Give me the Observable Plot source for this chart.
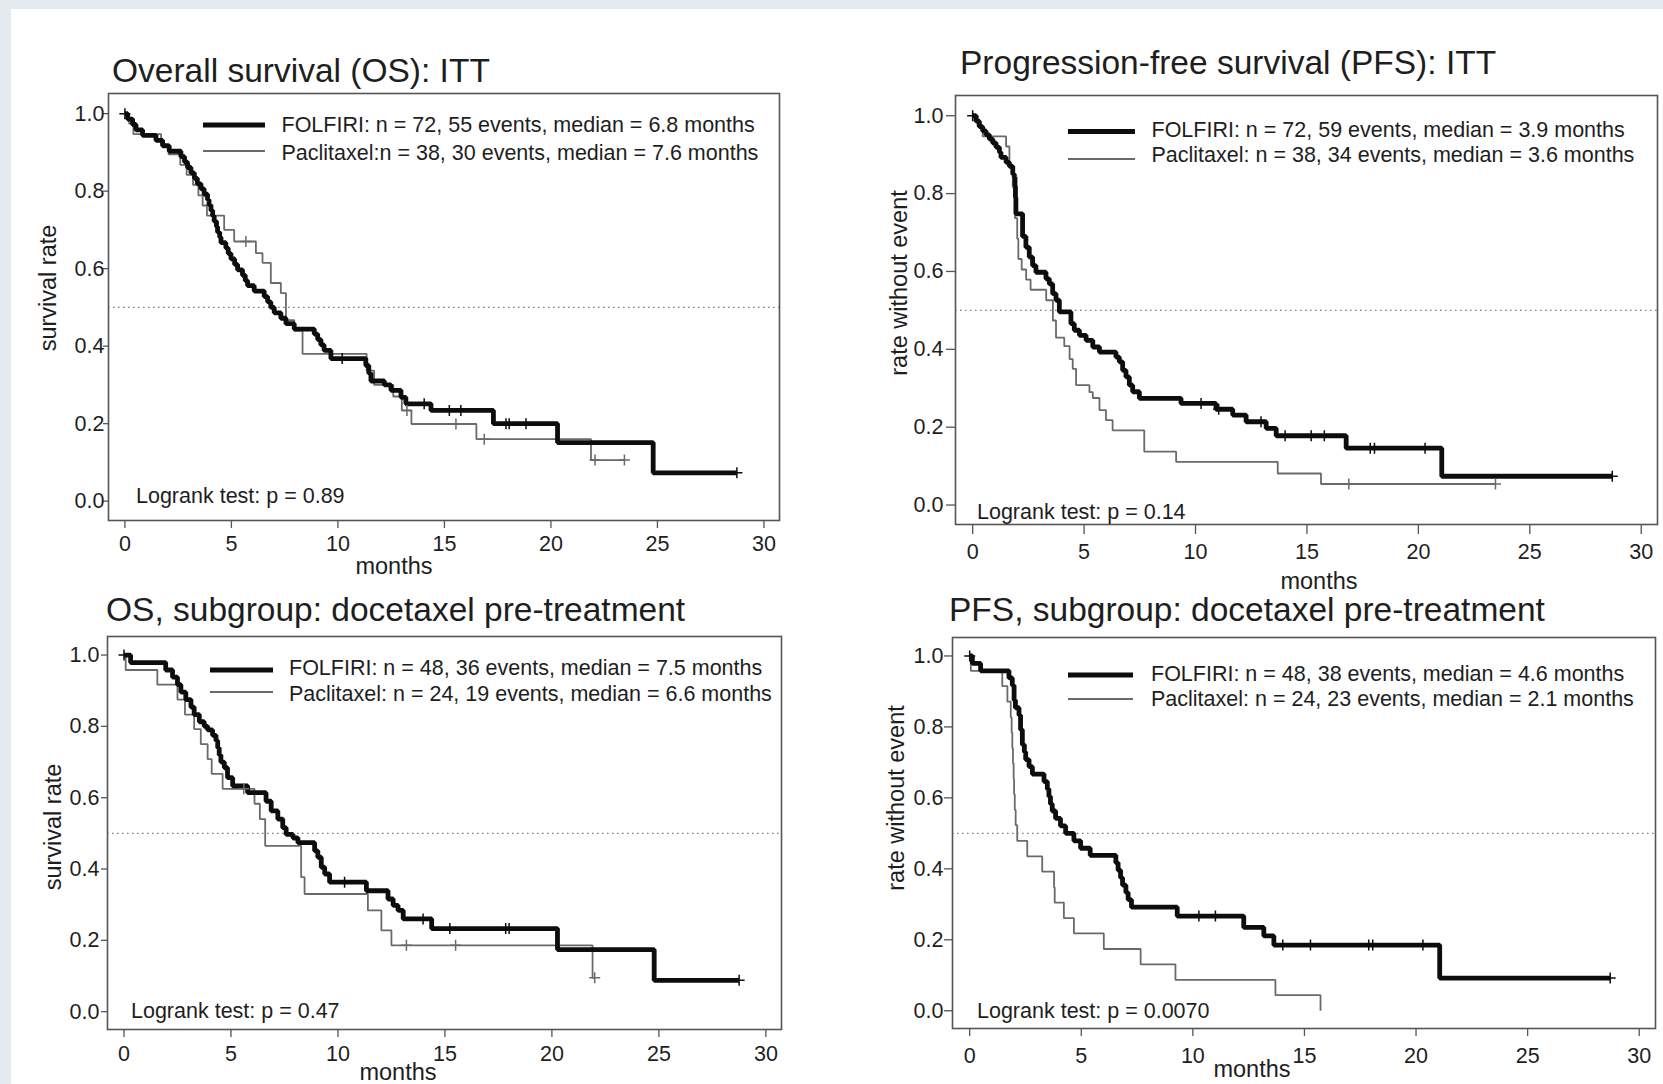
<!DOCTYPE html>
<html><head><meta charset="utf-8">
<script src="https://cdn.jsdelivr.net/npm/d3@7"></script>
<script src="https://cdn.jsdelivr.net/npm/@observablehq/plot@0.6"></script>
<style>
html,body{margin:0;padding:0;background:#e3ebf1;}
#page{position:relative;width:1663px;height:1084px;overflow:hidden;background:#e3ebf1;}
#sheet{position:absolute;left:11px;top:9px;right:0;bottom:0;background:#fff;}
#page svg{position:absolute;overflow:visible;}
</style></head>
<body><div id="page"><div id="sheet"></div></div>
<script>
// ---------- data ----------
const X_TICKS = [0, 5, 10, 15, 20, 25, 30];
const Y_TICKS = [0, 0.2, 0.4, 0.6, 0.8, 1.0];

const titles = ["Overall survival (OS): ITT", "Progression-free survival (PFS): ITT",
  "OS, subgroup: docetaxel pre-treatment", "PFS, subgroup: docetaxel pre-treatment"];
const yLabels = ["survival rate", "rate without event", "survival rate", "rate without event"];
const xLabel = "months";
const legendFolfiri = ["FOLFIRI: n = 72, 55 events, median = 6.8 months",
  "FOLFIRI: n = 72, 59 events, median = 3.9 months",
  "FOLFIRI: n = 48, 36 events, median = 7.5 months",
  "FOLFIRI: n = 48, 38 events, median = 4.6 months"];
const legendPaclitaxel = ["Paclitaxel:n = 38, 30 events, median = 7.6 months",
  "Paclitaxel: n = 38, 34 events, median = 3.6 months",
  "Paclitaxel: n = 24, 19 events, median = 6.6 months",
  "Paclitaxel: n = 24, 23 events, median = 2.1 months"];
const logrank = ["Logrank test: p = 0.89", "Logrank test: p = 0.14", "Logrank test: p = 0.47", "Logrank test: p = 0.0070"];

// Panel 1: OS, ITT
const osFolT = [0.13,0.36,0.52,0.83,1.46,1.77,2.08,2.63,2.80,2.94,3.10,3.26,3.40,3.57,3.72,3.88,3.95,4.04,4.12,4.19,4.30,4.35,4.45,4.51,4.74,4.85,4.98,5.15,5.29,5.52,5.65,5.76,6.07,6.54,6.70,6.85,7.01,7.32,7.56,7.95,8.89,9.05,9.20,9.35,9.67,11.31,11.45,11.55,12.18,12.49,12.96,13.19,14.37,17.30,20.31,24.80];
const osFolS = [0.986,0.972,0.958,0.944,0.931,0.917,0.903,0.889,0.875,0.861,0.847,0.833,0.819,0.806,0.792,0.778,0.764,0.750,0.736,0.722,0.708,0.694,0.681,0.667,0.653,0.639,0.625,0.611,0.597,0.583,0.569,0.556,0.542,0.528,0.514,0.500,0.486,0.472,0.458,0.444,0.431,0.417,0.403,0.389,0.368,0.350,0.330,0.310,0.300,0.286,0.268,0.251,0.234,0.200,0.151,0.073];
const osFolC = [0, 10.2, 14.05, 15.23, 15.77, 17.89, 18.04, 18.83, 28.73];
const osPacT = [0.20,0.40,1.70,2.05,2.60,2.90,3.20,3.45,3.65,3.85,4.66,5.13,6.15,6.46,6.85,7.32,7.56,7.95,8.34,11.35,11.70,12.60,13.00,13.45,16.50,21.88];
const osPacS = [0.974,0.947,0.921,0.895,0.868,0.842,0.816,0.789,0.763,0.737,0.700,0.670,0.640,0.615,0.563,0.537,0.467,0.440,0.380,0.337,0.300,0.270,0.234,0.199,0.160,0.106];
const osPacC = [5.68, 13.24, 15.54, 16.87, 22.07, 23.45];

// Panel 2: PFS, ITT
const pfsFolT = [0.15,0.30,0.45,0.60,0.75,0.90,1.05,1.20,1.27,1.50,1.65,1.80,1.87,1.90,1.92,1.94,2.24,2.39,2.54,2.69,2.84,3.29,3.44,3.59,3.74,3.89,4.41,4.56,4.79,5.09,5.39,5.69,6.43,6.58,6.73,6.88,7.03,7.18,7.48,9.35,10.92,11.67,12.27,13.17,13.62,16.76,21.05];
const pfsFolS = [0.986,0.972,0.961,0.951,0.940,0.930,0.919,0.906,0.893,0.880,0.870,0.850,0.842,0.820,0.790,0.748,0.690,0.662,0.637,0.615,0.598,0.581,0.568,0.543,0.526,0.496,0.466,0.449,0.436,0.423,0.406,0.393,0.380,0.368,0.346,0.329,0.308,0.291,0.274,0.261,0.246,0.231,0.214,0.197,0.178,0.146,0.074];
const pfsFolC = [0, 10.25, 11.04, 12.94, 14.02, 15.19, 15.78, 17.84, 18.03, 20.30, 28.70];
const pfsPacT = [0.22,0.45,1.50,1.65,1.80,1.90,2.00,2.05,2.20,2.40,2.60,3.30,3.60,3.74,4.11,4.35,4.49,4.64,5.24,5.39,5.69,5.98,6.28,7.70,9.13,13.69,15.63];
const pfsPacS = [0.974,0.947,0.921,0.868,0.816,0.737,0.684,0.632,0.605,0.579,0.553,0.526,0.474,0.430,0.408,0.375,0.350,0.308,0.290,0.275,0.244,0.218,0.192,0.137,0.111,0.081,0.054];
const pfsPacC = [16.88, 23.46];

// Panel 3: OS, docetaxel subgroup
const osSubFolT = [0.31,1.95,2.27,2.50,2.66,2.89,3.13,3.28,3.52,3.75,3.91,4.14,4.30,4.38,4.45,4.53,4.69,4.84,5.08,5.78,6.64,6.88,7.19,7.42,7.58,7.90,8.13,8.91,9.06,9.22,9.38,9.61,11.33,12.34,12.58,12.81,13.05,14.38,20.26,24.78];
const osSubFolS = [0.979,0.958,0.938,0.917,0.896,0.875,0.854,0.833,0.813,0.800,0.790,0.775,0.760,0.740,0.720,0.700,0.684,0.656,0.633,0.614,0.590,0.563,0.540,0.516,0.497,0.487,0.474,0.451,0.433,0.405,0.386,0.363,0.339,0.316,0.298,0.284,0.260,0.233,0.174,0.088];
const osSubFolC = [0, 10.31, 13.98, 15.23, 17.84, 18.00, 28.75];
const osSubPacT = [0.08,1.56,2.50,2.85,3.28,3.59,3.91,4.10,4.61,6.10,6.35,6.60,8.28,8.44,11.40,12.03,12.50,21.90];
const osSubPacS = [0.958,0.917,0.875,0.833,0.792,0.750,0.708,0.667,0.625,0.583,0.540,0.465,0.377,0.330,0.284,0.228,0.186,0.095];
const osSubPacC = [5.60, 13.20, 15.50, 22.00];

// Panel 4: PFS, docetaxel subgroup
const pfsSubFolT = [0.12,0.49,1.76,1.91,1.99,2.05,2.21,2.28,2.36,2.45,2.51,2.66,2.81,3.33,3.48,3.55,3.62,3.70,3.85,4.07,4.30,4.67,4.97,5.40,6.55,6.65,6.76,6.85,7.00,7.10,7.25,9.30,12.28,13.18,13.63,21.06];
const pfsSubFolS = [0.979,0.958,0.938,0.917,0.875,0.854,0.833,0.792,0.750,0.729,0.708,0.688,0.667,0.646,0.625,0.604,0.583,0.563,0.542,0.521,0.500,0.479,0.458,0.438,0.417,0.396,0.375,0.354,0.333,0.313,0.292,0.267,0.235,0.211,0.185,0.092];
const pfsSubFolC = [0, 10.27, 11.01, 14.03, 15.27, 17.88, 18.06, 20.31, 28.70];
const pfsSubPacT = [0.05,1.46,1.69,1.84,1.88,1.91,1.94,1.97,1.99,2.02,2.06,2.13,2.58,3.25,3.78,3.81,4.22,4.67,6.01,7.66,9.22,13.70,15.72];
const pfsSubPacS = [0.958,0.915,0.871,0.827,0.784,0.740,0.697,0.653,0.610,0.566,0.523,0.479,0.435,0.392,0.348,0.305,0.261,0.218,0.174,0.131,0.087,0.044,0.000];
const pfsSubPacC = [];

// ---------- layout ----------
const FONT = "'Liberation Sans', Arial, Helvetica, sans-serif";
const TEXT = "#1e1e1e";
const X_DOMAIN = [-0.77, 30.73];
const Y_DOMAIN = [-0.05, 1.052];

const layout = [
  {frame:[108,93,779,520], tx:112, ty:82, ylx:48, yly:288, mx:394, my:574, ytick:[5,-1], xtick:[8,7],
   leg:{x1:203,x2:265,yF:125,yP:151,tx:281.5,bF:132,bP:159.5}, lr:[136,503]},
  {frame:[955,95,1657,524], tx:960, ty:74, ylx:899, yly:283, mx:1319, my:589, ytick:[9,3], xtick:[10,9],
   leg:{x1:1068,x2:1135,yF:131.5,yP:159,tx:1151.5,bF:136.5,bP:162}, lr:[977,519]},
  {frame:[107,636,781,1029], tx:106, ty:621, ylx:53, yly:827, mx:398, my:1080, ytick:[6,2], xtick:[8,8],
   leg:{x1:210,x2:273,yF:670,yP:692,tx:289,bF:674.5,bP:701}, lr:[131,1018]},
  {frame:[952,637,1655,1028], tx:949, ty:621, ylx:896, yly:798, mx:1252, my:1077, ytick:[8,1], xtick:[8,11],
   leg:{x1:1068,x2:1133,yF:675,yP:699,tx:1151,bF:681,bP:706}, lr:[977,1018]}
];

const seriesData = [
  {fol:[osFolT, osFolS, osFolC], pac:[osPacT, osPacS, osPacC]},
  {fol:[pfsFolT, pfsFolS, pfsFolC], pac:[pfsPacT, pfsPacS, pfsPacC]},
  {fol:[osSubFolT, osSubFolS, osSubFolC], pac:[osSubPacT, osSubPacS, osSubPacC]},
  {fol:[pfsSubFolT, pfsSubFolS, pfsSubFolC], pac:[pfsSubPacT, pfsSubPacS, pfsSubPacC]}
];

function levelAt(T, S, t) {
  let s = 1;
  for (let i = 0; i < T.length; i++) if (T[i] <= t) s = S[i];
  return s;
}
function curvePoints(T, S, C) {
  const pts = [{t: 0, s: 1}];
  T.forEach((t, i) => pts.push({t, s: S[i]}));
  const end = Math.max(T.length ? T[T.length - 1] : 0, C.length ? d3.max(C) : 0);
  if (end > pts[pts.length - 1].t) pts.push({t: end, s: pts[pts.length - 1].s});
  return pts;
}
function censorPoints(T, S, C) {
  return C.map(t => ({t, s: levelAt(T, S, t)}));
}

const plusSymbol = {
  draw(ctx, size) {
    const r = Math.sqrt(size / Math.PI);
    ctx.moveTo(-r, 0); ctx.lineTo(r, 0);
    ctx.moveTo(0, -r); ctx.lineTo(0, r);
  }
};

const page = document.getElementById("page");
const BLACK = "#0d0d0d", GRAY = "#6a6a6a";

layout.forEach((L, i) => {
  const [fl, ft, fr, fb] = L.frame;
  const mL = 80, mR = 6, mT = 4, mB = 70;
  const d = seriesData[i];
  const folPts = curvePoints(...d.fol), pacPts = curvePoints(...d.pac);
  const folC = censorPoints(...d.fol), pacC = censorPoints(...d.pac);
  const svg = Plot.plot({
    width: fr - fl + mL + mR,
    height: fb - ft + mT + mB,
    marginLeft: mL, marginRight: mR, marginTop: mT, marginBottom: mB,
    x: {domain: X_DOMAIN},
    y: {domain: Y_DOMAIN},
    style: {fontFamily: FONT, fontSize: "21.5px", color: TEXT, background: "transparent", overflow: "visible"},
    marks: [
      Plot.ruleY([0.5], {stroke: "#808080", strokeWidth: 1.3, strokeDasharray: "1.6,3.4"}),
      Plot.line(pacPts, {x: "t", y: "s", curve: "step-after", stroke: GRAY, strokeWidth: 1.8, strokeLinejoin: "miter", strokeLinecap: "butt"}),
      Plot.line(folPts, {x: "t", y: "s", curve: "step-after", stroke: BLACK, strokeWidth: 4.8, strokeLinejoin: "miter", strokeLinecap: "butt"}),
      Plot.dot(pacC, {x: "t", y: "s", symbol: plusSymbol, r: 5.5, stroke: GRAY, strokeWidth: 1.5, fill: "none"}),
      Plot.dot(folC, {x: "t", y: "s", symbol: plusSymbol, r: 5.5, stroke: BLACK, strokeWidth: 1.5, fill: "none"}),
      Plot.frame({stroke: "#555", strokeWidth: 1.6}),
      Plot.axisX(X_TICKS, {tickSize: L.xtick[0], tickPadding: L.xtick[1], label: null, stroke: "#555", strokeWidth: 1.3}),
      Plot.axisY(Y_TICKS, {tickSize: L.ytick[0], tickPadding: L.ytick[1], label: null, tickFormat: v => v.toFixed(1), stroke: "#555", strokeWidth: 1.3})
    ]
  });
  svg.style.left = (fl - mL) + "px";
  svg.style.top = (ft - mT) + "px";
  page.appendChild(svg);
});

// ---------- overlay text: titles, axis labels, legends, logrank ----------
const ov = d3.select(page).append("svg")
  .attr("width", 1663).attr("height", 1084)
  .style("left", "0px").style("top", "0px")
  .style("font-family", FONT).style("fill", TEXT);

layout.forEach((L, i) => {
  ov.append("text").attr("x", L.tx).attr("y", L.ty).attr("font-size", 33.5).text(titles[i]);
  ov.append("text").attr("transform", `translate(${L.ylx},${L.yly}) rotate(-90)`)
    .attr("text-anchor", "middle").attr("dominant-baseline", "central").attr("font-size", 23.5).text(yLabels[i]);
  ov.append("text").attr("x", L.mx).attr("y", L.my).attr("text-anchor", "middle").attr("font-size", 23.5).text(xLabel);
  const g = L.leg;
  ov.append("line").attr("x1", g.x1).attr("x2", g.x2).attr("y1", g.yF).attr("y2", g.yF).attr("stroke", BLACK).attr("stroke-width", 5);
  ov.append("line").attr("x1", g.x1).attr("x2", g.x2).attr("y1", g.yP).attr("y2", g.yP).attr("stroke", GRAY).attr("stroke-width", 1.8);
  ov.append("text").attr("x", g.tx).attr("y", g.bF).attr("font-size", 21.5).text(legendFolfiri[i]);
  ov.append("text").attr("x", g.tx).attr("y", g.bP).attr("font-size", 21.5).text(legendPaclitaxel[i]);
  ov.append("text").attr("x", L.lr[0]).attr("y", L.lr[1]).attr("font-size", 21.5).text(logrank[i]);
});
</script>
</body></html>
